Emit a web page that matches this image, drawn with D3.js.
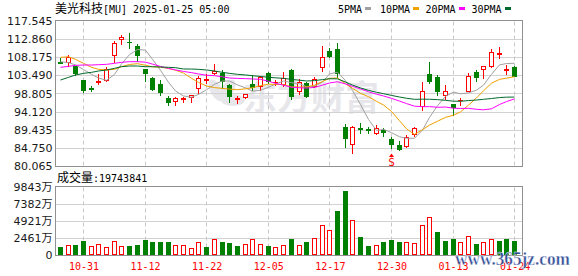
<!DOCTYPE html>
<html><head><meta charset="utf-8">
<script src="https://cdn.jsdelivr.net/npm/d3@7"></script>
<style>body{margin:0;background:#fff}svg{display:block}</style>
</head><body><svg id="c" width="578" height="276"></svg>
<script>
const dates = ["10-28","10-29","10-30","10-31","11-01","11-04","11-05","11-06","11-07","11-08",
"11-11","11-12","11-13","11-14","11-15","11-18","11-19","11-20","11-21","11-22",
"11-25","11-26","11-27","11-29","12-02","12-03","12-04","12-05","12-06","12-09",
"12-10","12-11","12-12","12-13","12-16","12-17","12-18","12-19","12-20","12-23",
"12-24","12-26","12-27","12-30","12-31","01-02","01-03","01-06","01-07","01-08",
"01-10","01-13","01-14","01-15","01-16","01-17","01-21","01-22","01-23","01-24"];
const open = [107.0,106.86,105.91,102.29,100.2,101.69,102.29,108.75,112.80,112.2,
111.08,105.05,102.89,101.17,97.72,96.78,97.29,97.90,100.31,102.20,
104.01,104.19,101.0,97.47,97.81,101.26,100.83,104.01,101.69,101.17,
104.88,99.53,101.60,100.83,105.74,109.79,110.22,90.06,85.66,89.80,
89.63,88.68,89.37,87.04,85.49,85.23,88.33,95.66,103.76,102.98,
98.41,96.09,97.04,99.53,104.45,105.05,105.91,109.10,104.79,105.57];
const close = [106.8,108.15,104.19,99.71,100.0,102.03,105.13,111.77,113.32,112.0,
108.75,104.19,99.96,99.10,96.52,97.55,97.72,98.33,102.72,102.55,
104.62,102.03,98.24,97.72,98.67,100.40,103.15,102.12,101.86,102.72,
98.16,101.86,98.24,102.46,108.15,108.58,104.19,87.21,90.06,89.63,
89.46,89.80,88.85,85.66,84.37,87.47,89.80,99.45,102.03,99.53,
99.45,95.40,97.21,103.33,102.98,105.91,109.44,109.36,105.05,103.41];
const high = [108.1,108.75,105.95,102.4,100.74,103.84,105.57,112.37,113.92,114.35,
111.60,105.1,103.15,102.29,98.16,97.98,97.98,98.4,103.33,103.84,
106.43,104.88,101.2,98.16,98.75,103.58,103.33,104.45,102.29,104.45,
105.13,102.46,101.86,102.98,111.08,110.48,111.94,90.92,90.40,91.09,
90.06,90.66,89.80,87.64,86.61,88.08,90.23,101.86,107.03,103.58,
101.0,96.2,97.55,104.19,104.88,106.0,110.22,110.91,106.17,105.91];
const low = [106.7,106.0,103.6,99.28,99.45,101.17,102.03,107.03,111.51,110.48,
107.29,102.12,99.71,98.41,95.83,95.83,96.69,96.69,98.84,101.43,
103.95,100.31,96.69,96.26,97.7,99.71,99.71,101.43,101.0,100.83,
97.38,98.67,97.98,100.57,104.70,108.15,103.0,84.89,83.51,88.51,
88.51,88.25,87.82,84.63,84.20,85.06,87.82,94.54,101.43,98.41,
97.29,93.24,95.83,99.45,102.12,102.72,105.57,107.89,103.76,103.33];
const volume = [1151,1439,1439,2015,1247,1535,1103,2015,1247,1295,
1439,2158,1871,1871,1871,1439,1439,1007,1871,1151,
2254,1871,1727,1295,1583,2254,1535,1295,1103,1391,
2302,1391,1871,2398,4269,3550,6332,9210,4989,2590,
1295,1391,1871,2158,1871,1823,1679,4269,5420,3310,
2015,2302,1871,2686,1583,1871,2254,2015,2302,1974];
const volumeUp = [0,1,0,0,1,1,1,1,1,0, 0,0,0,0,0,1,1,1,1,0, 1,0,0,0,1,1,1,0,1,1,
0,1,0,1,1,1,0,0,1,0, 0,1,0,0,0,1,1,1,1,0, 0,0,1,1,0,1,1,0,0,0];
const ma5 = [107.0,106.8,106.2,105.0,103.77,102.82,102.21,103.73,106.45,108.85,
110.19,110.01,107.64,104.80,101.70,99.46,98.17,97.84,98.57,99.77,
101.19,102.05,102.03,101.03,100.26,99.41,99.64,100.41,101.24,102.05,
101.60,101.34,100.57,100.69,101.77,103.86,104.32,102.12,99.64,95.93,
92.11,89.23,89.56,88.68,87.63,87.23,87.23,89.35,92.62,95.66,
98.05,99.17,98.72,98.98,99.67,100.97,103.77,106.20,106.55,106.63];
const ma10 = [108.15,108.3,107.63,106.6,105.57,105.05,104.88,105.05,105.74,106.31,
106.51,106.11,105.69,105.63,105.28,104.83,104.09,102.74,101.68,100.74,
100.33,100.11,99.94,99.80,100.02,100.30,100.84,101.22,101.14,101.15,
100.51,100.49,100.49,100.96,101.91,102.73,102.83,101.34,100.16,98.85,
97.98,96.78,95.84,94.16,91.78,89.67,88.23,89.46,90.65,91.64,
92.64,93.20,94.04,95.80,97.67,99.51,101.47,102.46,102.77,103.15];
const ma20 = [105.57,105.82,106.08,106.17,106.17,106.25,106.34,106.6,106.86,107.03,
107.03,106.9,106.4,105.8,105.3,104.9,104.5,104.2,103.85,103.52,
103.42,103.11,102.81,102.71,102.65,102.56,102.47,101.98,101.41,100.95,
100.42,100.30,100.21,100.38,100.96,101.52,101.84,101.28,100.65,100.00,
99.25,98.63,98.16,97.56,96.85,96.20,95.53,95.40,95.41,95.25,
95.31,94.99,94.94,94.98,94.72,94.59,94.85,95.96,96.71,97.40];
const ma30 = [102.29,102.98,103.58,104.01,104.27,104.62,104.88,105.31,105.74,105.91,
105.91,105.74,105.74,105.65,105.57,105.48,105.13,105.13,105.05,104.88,
104.62,104.27,104.01,103.76,103.6,103.4,103.2,103.0,102.85,102.73,
102.45,102.24,102.04,102.13,102.40,102.62,102.59,101.77,100.99,100.25,
99.61,99.13,98.76,98.31,97.90,97.57,97.30,97.34,97.32,97.22,
97.04,96.82,96.79,96.98,97.12,97.30,97.51,97.75,97.86,97.88];
const priceTicks = [117.545,112.860,108.175,103.490,98.805,94.120,89.435,84.750,80.065];
const volTicks = [9843,7382,4921,2461,0];
const volTickLabels = ["9843万","7382万","4921万","2461万","0"];
const xTicks = ["10-31","11-12","11-22","12-05","12-17","12-30","01-13","01-24"];
const maNames = ["5PMA","10PMA","20PMA","30PMA"];
const maColors = ["#a0a0a0","#f0a000","#ff00ff","#006a2c"];
const titleCn = "美光科技", titleEn = "[MU] 2025-01-25 05:00";
const volTitleCn = "成交量", volTitleEn = ":19743841";
const signalIndex = 43, signalText = "S";

const RED = "#ff0000", GREEN = "#008000";
const svg = d3.select("#c");
const PL = 55.5, PR = 522.5, PT = 20.5, PB = 166.5, VT = 186.5, VB = 255.5;

const x = d3.scaleBand().domain(dates).range([56.5, 518.5]);
const cx = i => Math.floor(x(dates[i]) + x.bandwidth() / 2);
const y = d3.scaleLinear().domain([80.065, 117.545]).range([166, 21]);
const yv = d3.scaleLinear().domain([0, 9843]).range([255, 186.6]);

const mono = "'DejaVu Sans Mono', monospace";
const cjk = "'Noto Sans CJK SC', sans-serif";
const sans = "'DejaVu Sans', sans-serif";

// faint Eastmoney watermark
const wm = svg.append("g").attr("opacity", 0.55);
[[-30],[30],[90]].forEach(([a]) => {
  wm.append("ellipse").attr("cx", 0).attr("cy", -11).attr("rx", 6).attr("ry", 12)
    .attr("fill", "#d4d4dc").attr("transform", `translate(222,100) rotate(${a})`);
});
wm.append("text").attr("x", 243).attr("y", 110).attr("font-family", cjk).attr("font-weight", "bold")
  .attr("font-size", 34).attr("fill", "#d4d4dc").text("东方财富");

// horizontal grids
const grid = svg.append("g");
grid.selectAll(".hp").data(priceTicks.slice(1, -1)).join("line")
  .attr("x1", PL).attr("x2", PR).attr("y1", d => Math.round(y(d)) + 0.5).attr("y2", d => Math.round(y(d)) + 0.5)
  .attr("stroke", "#d2d2d2");
grid.selectAll(".hv").data(volTicks.slice(1, -1)).join("line")
  .attr("x1", PL).attr("x2", PR).attr("y1", d => Math.round(yv(d)) + 0.5).attr("y2", d => Math.round(yv(d)) + 0.5)
  .attr("stroke", "#d2d2d2");
// vertical dashed
xTicks.forEach(t => {
  const xx = cx(dates.indexOf(t)) + 0.5;
  [[PT + 1, PB - 1], [VT + 1, VB - 1]].forEach(([a, b]) => {
    grid.append("line").attr("x1", xx).attr("x2", xx).attr("y1", a).attr("y2", b)
      .attr("stroke", "#c8c8c8").attr("stroke-dasharray", "4,3");
  });
});

// borders
svg.append("rect").attr("x", PL).attr("y", PT).attr("width", PR - PL).attr("height", PB - PT)
  .attr("fill", "none").attr("stroke", "#909090");
svg.append("rect").attr("x", PL).attr("y", VT).attr("width", PR - PL).attr("height", VB - VT)
  .attr("fill", "none").attr("stroke", "#909090");

// candles
const cg = svg.append("g");
dates.forEach((d, i) => {
  const c = cx(i), up = close[i] >= open[i];
  const col = up ? RED : GREEN;
  const yt = Math.round(y(Math.max(open[i], close[i])));
  const yb = Math.round(y(Math.min(open[i], close[i])));
  const yh = Math.round(y(high[i])), yl = Math.round(y(low[i]));
  if (up && yb - yt >= 2) {
    cg.append("line").attr("x1", c + 0.5).attr("x2", c + 0.5).attr("y1", yh).attr("y2", yt).attr("stroke", col);
    cg.append("line").attr("x1", c + 0.5).attr("x2", c + 0.5).attr("y1", yb + 1).attr("y2", yl + 1).attr("stroke", col);
    cg.append("rect").attr("x", c - 1.5).attr("y", yt + 0.5).attr("width", 4).attr("height", yb - yt)
      .attr("fill", "#fff").attr("stroke", col);
  } else {
    cg.append("line").attr("x1", c + 0.5).attr("x2", c + 0.5).attr("y1", yh).attr("y2", yl + 1).attr("stroke", col);
    cg.append("rect").attr("x", c - 2).attr("y", yt).attr("width", 5).attr("height", Math.max(1, yb - yt + 1))
      .attr("fill", col);
  }
});

// MA lines
[ma5, ma10, ma20, ma30].forEach((arr, k) => {
  svg.append("path").datum(arr).attr("fill", "none").attr("stroke", maColors[k]).attr("stroke-width", 1)
    .attr("d", d3.line().x((v, i) => cx(i) + 0.5).y(v => y(v)));
});

// signal
const sc = cx(signalIndex) + 0.5;
svg.append("path").attr("d", `M${sc - 2.5},157 L${sc + 2.5},157 L${sc},153.5 Z`).attr("fill", RED);
svg.append("text").attr("x", sc).attr("y", 166).attr("text-anchor", "middle").attr("font-family", mono)
  .attr("font-size", 11).attr("fill", RED).text(signalText);

// volume bars
const vg = svg.append("g");
volume.forEach((v, i) => {
  const c = cx(i), yt = Math.round(yv(v));
  if (volumeUp[i]) {
    vg.append("rect").attr("x", c - 1.5).attr("y", yt + 0.5).attr("width", 4).attr("height", 255 - yt - 1)
      .attr("fill", "#fff").attr("stroke", RED);
  } else {
    vg.append("rect").attr("x", c - 2).attr("y", yt).attr("width", 5).attr("height", 255 - yt).attr("fill", GREEN);
  }
});

// axes
const ya = svg.append("g").attr("transform", "translate(55,0)")
  .call(d3.axisLeft(y).tickValues(priceTicks).tickFormat(d3.format(".3f")).tickSize(0).tickPadding(2.5));
const yva = svg.append("g").attr("transform", "translate(55,0)")
  .call(d3.axisLeft(yv).tickValues(volTicks).tickFormat((d, i) => volTickLabels[i]).tickSize(0).tickPadding(2.5));
[ya, yva].forEach(a => {
  a.select(".domain").remove();
  a.selectAll("text").attr("font-family", sans).attr("font-size", 11).attr("fill", "#1a1a1a");
});
yva.selectAll("text").attr("font-family", "'DejaVu Sans','Noto Sans CJK SC',sans-serif");
const xa = svg.append("g").attr("transform", "translate(0.5,255)")
  .call(d3.axisBottom(x).tickValues(xTicks).tickSize(0).tickPadding(8));
xa.select(".domain").remove();
xa.selectAll("text").attr("font-family", mono).attr("font-size", 10).attr("fill", RED);

// title
const tt = svg.append("text").attr("x", 55).attr("y", 12.5).attr("fill", "#000");
tt.append("tspan").attr("font-family", cjk).attr("font-size", 12).text(titleCn);
tt.append("tspan").attr("font-family", mono).attr("font-size", 10).text(titleEn);
// legend
const lx = [338, 380, 425.5, 471.5], rx = [365, 413, 459, 505];
maNames.forEach((n, k) => {
  svg.append("text").attr("x", lx[k]).attr("y", 12.5).attr("font-family", mono).attr("font-size", 10)
    .attr("fill", "#000").text(n);
  svg.append("rect").attr("x", rx[k]).attr("y", 7).attr("width", 6).attr("height", 3).attr("fill", maColors[k]);
});
// volume title
const vt = svg.append("text").attr("x", 57).attr("y", 181.5).attr("fill", "#000");
vt.append("tspan").attr("font-family", cjk).attr("font-size", 12).text(volTitleCn);
vt.append("tspan").attr("font-family", mono).attr("font-size", 10).text(volTitleEn);

// site watermark
svg.append("text").attr("x", 455).attr("y", 265).attr("font-family", "'Liberation Serif', serif")
  .attr("font-weight", "bold").attr("font-size", 18).attr("textLength", 115).attr("lengthAdjust", "spacingAndGlyphs")
  .attr("fill", "#23408e").attr("stroke", "#fff").attr("stroke-width", 0.4).attr("opacity", 0.92).text("www.365jz.com");
</script></body></html>
